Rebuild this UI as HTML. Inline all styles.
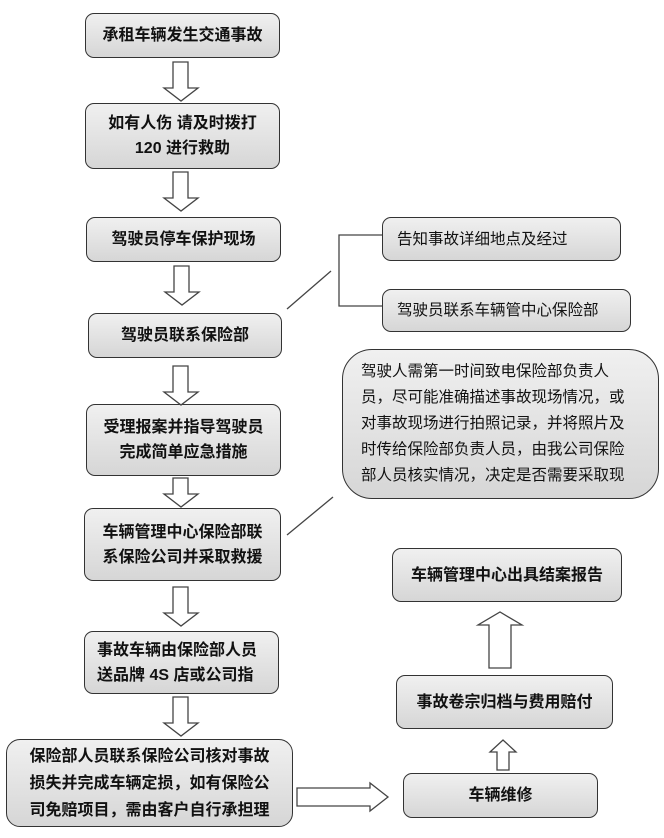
<!DOCTYPE html>
<html><head><meta charset="utf-8"><style>
body{margin:0;width:664px;height:838px;background:#fff;position:relative;overflow:hidden;font-family:"Liberation Sans","Noto Sans CJK SC",sans-serif;}
.b{position:absolute;box-sizing:border-box;border:1.3px solid #333;border-radius:9px;background:linear-gradient(#f0f0f0,#d6d6d6);display:flex;align-items:center;justify-content:center;text-align:center;font-size:16px;font-weight:bold;color:#111;line-height:25px;}
.n{font-weight:normal;justify-content:flex-start;padding-left:14px;font-size:15.5px}
svg{position:absolute;left:0;top:0}
</style></head><body>
<div class="b" style="left:85px;top:13px;width:195px;height:45px">承租车辆发生交通事故</div>
<div class="b" style="left:85px;top:103px;width:195px;height:66px">如有人伤 请及时拨打<br>120 进行救助</div>
<div class="b" style="left:86px;top:217px;width:195px;height:45px">驾驶员停车保护现场</div>
<div class="b" style="left:88px;top:313px;width:194px;height:45px">驾驶员联系保险部</div>
<div class="b" style="left:86px;top:404px;width:195px;height:72px">受理报案并指导驾驶员<br>完成简单应急措施</div>
<div class="b" style="left:84px;top:508px;width:197px;height:73px">车辆管理中心保险部联<br>系保险公司并采取救援</div>
<div class="b" style="left:84px;top:631px;width:195px;height:63px;justify-content:flex-start;padding-left:12px;text-align:left">事故车辆由保险部人员<br>送品牌 4S 店或公司指</div>
<div class="b" style="left:6px;top:739px;width:287px;height:88px;border-radius:14px;line-height:27px">保险部人员联系保险公司核对事故<br>损失并完成车辆定损，如有保险公<br>司免赔项目，需由客户自行承担理</div>
<div class="b n" style="left:382px;top:217px;width:239px;height:44px">告知事故详细地点及经过</div>
<div class="b n" style="left:382px;top:289px;width:249px;height:43px">驾驶员联系车辆管中心保险部</div>
<div class="b" style="left:342px;top:349px;width:317px;height:150px;border-radius:30px;font-weight:normal;font-size:15.5px;text-align:left;justify-content:flex-start;padding-left:18px;line-height:26px">驾驶人需第一时间致电保险部负责人<br>员，尽可能准确描述事故现场情况，或<br>对事故现场进行拍照记录，并将照片及<br>时传给保险部负责人员，由我公司保险<br>部人员核实情况，决定是否需要采取现</div>
<div class="b" style="left:392px;top:548px;width:230px;height:54px">车辆管理中心出具结案报告</div>
<div class="b" style="left:396px;top:675px;width:217px;height:54px">事故卷宗归档与费用赔付</div>
<div class="b" style="left:403px;top:773px;width:195px;height:45px">车辆维修</div>
<svg width="664" height="838" fill="#fff" stroke="#444" stroke-width="1.3">
<g id="d"><polygon points="173,62 188,62 188,88 198,88 181,101 164,88 173,88"/></g>
<use href="#d" transform="translate(0,110)"/>
<use href="#d" transform="translate(1,204)"/>
<use href="#d" transform="translate(0,304)"/>
<polygon points="173,478 188,478 188,494 198,494 181,507 164,494 173,494"/>
<use href="#d" transform="translate(0,525)"/>
<use href="#d" transform="translate(0,635)"/>
<polygon points="297,788 370,788 370,783 388,797 370,811 370,806 297,806"/>
<polygon points="489,668 511,668 511,625 522,625 500,612 478,625 489,625"/>
<polygon points="497,770 509,770 509,752 516,752 503,740 490,752 497,752"/>
<polyline fill="none" points="382,235 339,235 339,306 382,306"/>
<line x1="287" y1="309" x2="331" y2="271"/>
<line x1="287" y1="535" x2="333" y2="497"/>
</svg>
</body></html>
